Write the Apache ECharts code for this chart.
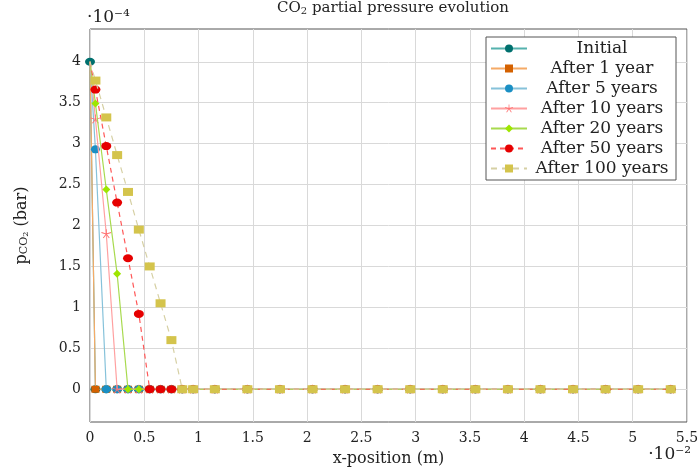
<!DOCTYPE html>
<html>
<head>
<meta charset="utf-8">
<script src="https://cdn.jsdelivr.net/npm/echarts@6/dist/echarts.min.js"></script>
<style>
  html, body { margin: 0; padding: 0; background: #ffffff; }
  #chart { width: 700px; height: 470px; }
</style>
</head>
<body>
<div id="chart"></div>
<script>
// Cell-centre positions along the domain (units of 1e-2 m); the first entry is the boundary.
const xPositions = [0, 0.05, 0.15, 0.25, 0.35, 0.45, 0.55, 0.65, 0.75, 0.85, 0.95,
  1.15, 1.45, 1.75, 2.05, 2.35, 2.65, 2.95, 3.25, 3.55, 3.85, 4.15, 4.45, 4.75, 5.05, 5.35];

const seriesNames = ['Initial', 'After 1 year', 'After 5 years', 'After 10 years',
  'After 20 years', 'After 50 years', 'After 100 years'];

// CO2 partial pressure profiles (units of 1e-4 bar)
const pInitial = [4, 0, 0, 0, 0, 0, 0, 0, 0, 0, 0, 0, 0, 0, 0, 0, 0, 0, 0, 0, 0, 0, 0, 0, 0, 0];
const pYear1   = [4, 0, 0, 0, 0, 0, 0, 0, 0, 0, 0, 0, 0, 0, 0, 0, 0, 0, 0, 0, 0, 0, 0, 0, 0, 0];
const pYear5   = [4, 2.93, 0, 0, 0, 0, 0, 0, 0, 0, 0, 0, 0, 0, 0, 0, 0, 0, 0, 0, 0, 0, 0, 0, 0, 0];
const pYear10  = [4, 3.30, 1.90, 0, 0, 0, 0, 0, 0, 0, 0, 0, 0, 0, 0, 0, 0, 0, 0, 0, 0, 0, 0, 0, 0, 0];
const pYear20  = [4, 3.49, 2.44, 1.41, 0, 0, 0, 0, 0, 0, 0, 0, 0, 0, 0, 0, 0, 0, 0, 0, 0, 0, 0, 0, 0, 0];
const pYear50  = [4, 3.66, 2.97, 2.28, 1.60, 0.92, 0, 0, 0, 0, 0, 0, 0, 0, 0, 0, 0, 0, 0, 0, 0, 0, 0, 0, 0, 0];
const pYear100 = [4, 3.77, 3.32, 2.86, 2.41, 1.95, 1.50, 1.05, 0.60, 0, 0, 0, 0, 0, 0, 0, 0, 0, 0, 0, 0, 0, 0, 0, 0, 0];

const yTickValues = [0, 0.5, 1, 1.5, 2, 2.5, 3, 3.5, 4];

const FONT = 'DejaVu Serif';

// five-spoke asterisk marker
function asteriskPath() {
  const w = 0.09;
  let d = '';
  for (let k = 0; k < 5; k++) {
    const a = (-90 + 72 * k) * Math.PI / 180;
    const dx = Math.cos(a), dy = Math.sin(a);
    const px = -dy * w, py = dx * w;
    const pts = [[px, py], [dx + px, dy + py], [dx - px, dy - py], [-px, -py]];
    d += 'M' + pts.map(p => (p[0] + 1).toFixed(3) + ' ' + (p[1] + 1).toFixed(3)).join(' L') + ' Z ';
  }
  return 'path://' + d;
}

const styles = [
  { marker: '#00706e', line: '#55b2ae', symbol: 'circle', size: [10, 8], dash: 'solid' },
  { marker: '#d46100', line: '#f5aa66', symbol: 'rect', size: [8, 7], dash: 'solid' },
  { marker: '#1a8fc4', line: '#86c2da', symbol: 'circle', size: [9, 8], dash: 'solid' },
  { marker: '#ff7070', line: '#ffa0a0', symbol: asteriskPath(), size: [10, 9], dash: 'solid' },
  { marker: '#9ee600', line: '#a8da4e', symbol: 'diamond', size: [8, 8], dash: 'solid' },
  { marker: '#e60000', line: '#ff5757', symbol: 'circle', size: [10, 8], dash: [5, 4] },
  { marker: '#d4c44c', line: '#d6d0a4', symbol: 'rect', size: [10, 8], dash: [6, 5] }
];

const profiles = [pInitial, pYear1, pYear5, pYear10, pYear20, pYear50, pYear100];

const series = profiles.map((vals, i) => {
  const st = styles[i];
  const data = xPositions.map((x, j) => {
    // the boundary point carries a marker only for the initial profile
    if (j === 0 && i > 0) return { value: [x, vals[j]], symbol: 'none' };
    return [x, vals[j]];
  });
  return {
    name: seriesNames[i],
    type: 'line',
    data: data,
    symbol: st.symbol,
    symbolSize: st.size,
    showAllSymbol: true,
    itemStyle: { color: st.marker, borderWidth: 0 },
    lineStyle: { color: st.line, width: 1.2, type: st.dash },
    emphasis: { disabled: true },
    animation: false,
    z: 2 + i
  };
});

const chart = echarts.init(document.getElementById('chart'), null, { renderer: 'canvas' });

chart.setOption({
  animation: false,
  backgroundColor: '#ffffff',
  title: {
    text: '{a|CO}{s|2}{a| partial pressure evolution}',
    left: 388,
    textAlign: 'center',
    top: -5,
    textStyle: {
      fontWeight: 'normal',
      rich: {
        a: { fontFamily: FONT, fontSize: 15, fontWeight: 'normal', color: '#222' },
        s: { fontFamily: FONT, fontSize: 10, fontWeight: 'normal', color: '#222', verticalAlign: 'bottom', padding: [6, 0, 0, 0] }
      }
    }
  },
  grid: {
    left: 90, right: 13, top: 29, bottom: 48,
    outerBoundsMode: 'none',
    containLabel: false,
    show: true, borderColor: '#555', borderWidth: 1, backgroundColor: 'transparent'
  },
  legend: {
    orient: 'vertical',
    left: 486,
    top: 37,
    data: seriesNames,
    itemWidth: 36,
    itemHeight: 10,
    itemGap: 3,
    padding: [3, 4, 3, 4],
    backgroundColor: '#ffffff',
    borderColor: '#555',
    borderWidth: 1,
    borderRadius: 0,
    formatter: n => '{t|' + n + '}',
    textStyle: {
      rich: { t: { width: 140, align: 'center', fontFamily: FONT, fontSize: 17, lineHeight: 17, color: '#222' } }
    }
  },
  xAxis: {
    type: 'value',
    min: 0,
    max: 5.5,
    interval: 0.5,
    name: 'x-position (m)',
    nameLocation: 'middle',
    nameGap: 29,
    nameTextStyle: { fontFamily: FONT, fontSize: 16, color: '#222' },
    axisLine: { show: false },
    axisTick: { show: false },
    axisLabel: { fontFamily: FONT, fontSize: 14, color: '#222', margin: 9, formatter: v => String(v) },
    splitLine: { show: true, lineStyle: { color: '#d9d9d9', width: 1 } }
  },
  yAxis: {
    type: 'value',
    min: -0.4,
    max: 4.4,
    name: '{n|p}{s|CO}{t|2}{n| (bar)}',
    nameLocation: 'middle',
    nameRotate: 90,
    nameGap: 60,
    nameTextStyle: {
      rich: {
        n: { fontFamily: FONT, fontSize: 16, color: '#222' },
        s: { fontFamily: FONT, fontSize: 11, color: '#222', verticalAlign: 'bottom', padding: [6, 0, 0, 0] },
        t: { fontFamily: FONT, fontSize: 8, color: '#222', verticalAlign: 'bottom', padding: [9, 0, 0, 0] }
      }
    },
    axisLine: { show: false },
    axisTick: { show: false, customValues: yTickValues },
    axisLabel: { customValues: yTickValues, fontFamily: FONT, fontSize: 14, color: '#222', margin: 9, formatter: v => String(v) },
    splitLine: { show: true, lineStyle: { color: '#d9d9d9', width: 1 } }
  },
  graphic: [
    { type: 'text', left: 87, top: 9, style: { text: '·10⁻⁴', fontFamily: FONT, fontSize: 17, fill: '#222' } },
    { type: 'text', right: 9, top: 446, style: { text: '·10⁻²', fontFamily: FONT, fontSize: 17, fill: '#222' } }
  ],
  series: series
});
</script>
</body>
</html>
